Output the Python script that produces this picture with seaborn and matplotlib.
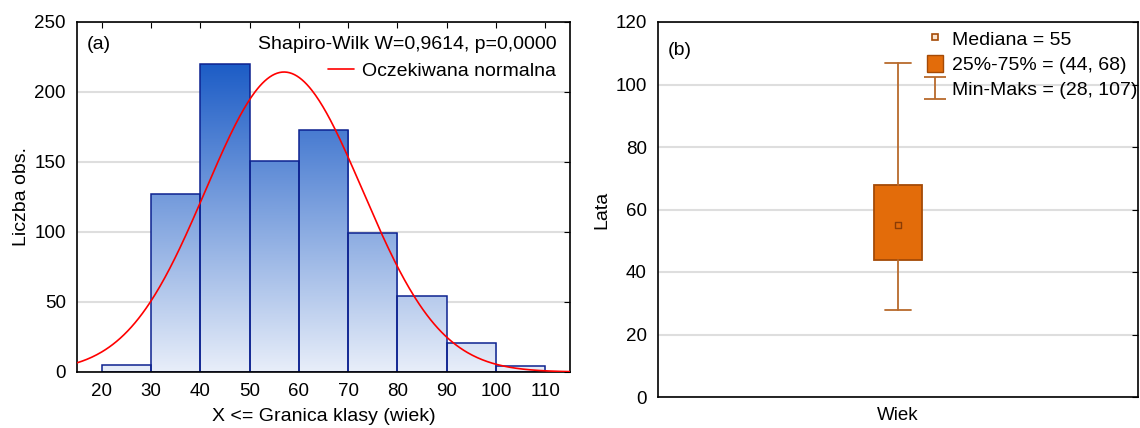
import numpy as np
import pandas as pd
import seaborn as sns
import matplotlib.pyplot as plt
from matplotlib.colors import LinearSegmentedColormap
from matplotlib.lines import Line2D
from matplotlib.patches import Patch
from matplotlib.path import Path

# histogram data (age classes)
bin_edges = [20, 30, 40, 50, 60, 70, 80, 90, 100, 110]
counts = [5, 127, 220, 151, 173, 99, 54, 21, 4]
x_ticks = [20, 30, 40, 50, 60, 70, 80, 90, 100, 110]

# expected normal curve parameters
norm_mean = 57.0
norm_sd = 15.9

# box plot summary (wiek)
box_category = 'Wiek'
median_val = 55
q1, q3 = 44, 68
min_val, max_val = 28, 107

sns.set_style('white')
plt.rcParams['font.family'] = ['Liberation Sans', 'DejaVu Sans']
plt.rcParams['font.size'] = 14
for k in ['text.color', 'axes.labelcolor', 'xtick.color', 'ytick.color']:
    plt.rcParams[k] = 'black'

fig = plt.figure(figsize=(11.4, 4.28), dpi=100)
ax1 = fig.add_axes([77 / 1140, 56 / 428, 493 / 1140, 350 / 428])
ax2 = fig.add_axes([658 / 1140, 31 / 428, 480 / 1140, 375 / 428])

# ---- (a) histogram ----
df = pd.DataFrame({'mid': np.array(bin_edges[:-1]) + 5, 'n': counts})
sns.histplot(data=df, x='mid', weights='n', bins=bin_edges, ax=ax1,
             stat='count', element='bars', fill=True, legend=False)

cmap = LinearSegmentedColormap.from_list('blu', ['#e8eef9', '#1c5cc6'])
grad = np.linspace(0, 1, 256).reshape(-1, 1)
for p in ax1.patches:
    p.set_facecolor('none')
    p.set_edgecolor('#0d2290')
    p.set_linewidth(1.1)
    p.set_alpha(1)
    im = ax1.imshow(grad, cmap=cmap, origin='lower', aspect='auto',
                    extent=[15, 115, 0, 220], zorder=1.5)
    im.set_clip_path(p)
    p.set_zorder(2)

xs = np.linspace(15, 115, 400)
n_total = sum(counts)
curve = n_total * 10 / (norm_sd * np.sqrt(2 * np.pi)) * np.exp(-0.5 * ((xs - norm_mean) / norm_sd) ** 2)
sns.lineplot(x=xs, y=curve, ax=ax1, color='red', lw=1.2, zorder=3)

ax1.set_xlim(15, 115)
ax1.set_ylim(0, 250)
ax1.set_xticks(x_ticks)
ax1.set_yticks([0, 50, 100, 150, 200, 250])
ax1.yaxis.grid(True, color='#dedede', lw=1.5)
ax1.set_axisbelow(True)
ax1.set_xlabel('X <= Granica klasy (wiek)', labelpad=6)
ax1.set_ylabel('Liczba obs.', labelpad=3)
ax1.text(0.02, 0.935, '(a)', transform=ax1.transAxes, va='center', fontsize=14)
ax1.legend([Line2D([], [], color='red', lw=1.2)], ['Oczekiwana normalna'],
           title='Shapiro-Wilk W=0,9614, p=0,0000', alignment='right',
           loc='upper right', frameon=False, handlelength=1.3, handletextpad=0.45,
           borderaxespad=0.3, fontsize=14, title_fontsize=14)

# ---- (b) box plot ----
stats = [{'med': median_val, 'q1': q1, 'q3': q3, 'whislo': min_val,
          'whishi': max_val, 'label': box_category}]
ax2.bxp(stats, positions=[0], widths=0.1, showfliers=False, patch_artist=True,
        boxprops=dict(facecolor='#e36c0a', edgecolor='#a44a06', lw=1.3),
        whiskerprops=dict(color='#b86a2c', lw=1.3),
        capprops=dict(color='#b86a2c', lw=1.3),
        medianprops=dict(lw=0), capwidths=0.055)
sns.scatterplot(x=[0], y=[median_val], ax=ax2, marker='s', s=14,
                color='#e36c0a', edgecolor='#8a3c05', linewidth=1, zorder=5)

ax2.set_xlim(-0.5, 0.5)
ax2.set_ylim(0, 120)
ax2.set_yticks([0, 20, 40, 60, 80, 100, 120])
ax2.set_xticks([0])
ax2.set_xticklabels([box_category])
ax2.yaxis.grid(True, color='#dedede', lw=1.5)
ax2.set_axisbelow(True)
ax2.set_ylabel('Lata', labelpad=4)
ax2.text(0.02, 0.925, '(b)', transform=ax2.transAxes, va='center', fontsize=14)

i_marker = Path([(-1, 1), (1, 1), (0, 1), (0, -1), (-1, -1), (1, -1)],
                [Path.MOVETO, Path.LINETO, Path.MOVETO, Path.LINETO, Path.MOVETO, Path.LINETO])
h_med = Line2D([], [], ls='none', marker='s', ms=4, mfc='#fbe3cc', mec='#a44a06', mew=1.2)
h_box = Patch(facecolor='#e36c0a', edgecolor='#a44a06')
h_rng = Line2D([], [], ls='none', marker=i_marker, ms=16, mfc='none', mec='#b86a2c', mew=1.3)
ax2.legend([h_med, h_box, h_rng],
           ['Mediana = %d' % median_val, '25%%-75%% = (%d, %d)' % (q1, q3),
            'Min-Maks = (%d, %d)' % (min_val, max_val)],
           loc='upper left', bbox_to_anchor=(0.544, 1.0), frameon=False,
           borderaxespad=0, handlelength=0.82, handleheight=0.95,
           handletextpad=0.45, labelspacing=0.32, fontsize=14)

for ax in (ax1, ax2):
    for s in ax.spines.values():
        s.set_color('black')
        s.set_linewidth(1.2)
    ax.tick_params(axis='y', left=False, right=True, direction='in', length=4,
                   labelsize=13.5, pad=8)
    ax.tick_params(axis='x', bottom=False, labelsize=13.5, pad=8)
ax1.tick_params(axis='x', top=True, direction='in', length=4)
ax2.tick_params(axis='x', pad=4)

fig.savefig('out.png', dpi=100)
